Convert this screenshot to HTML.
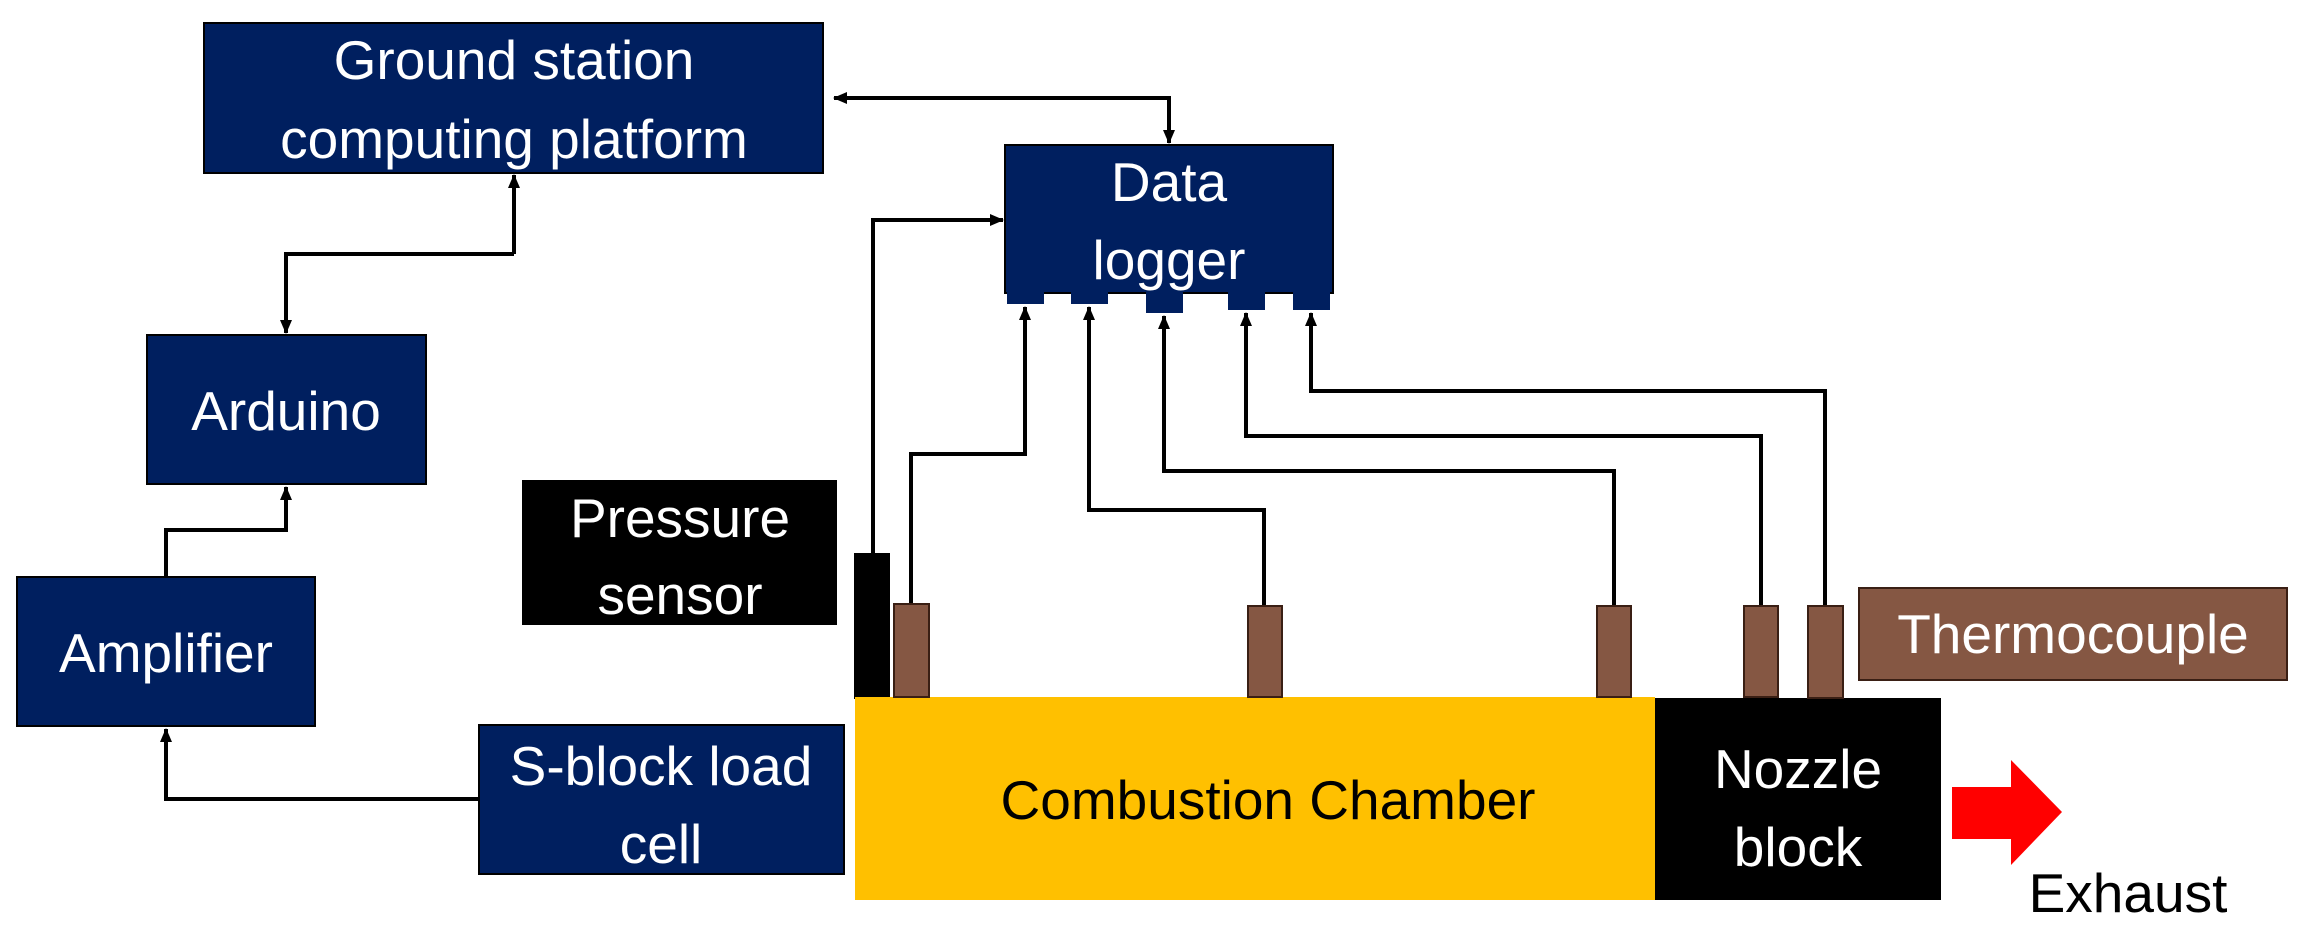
<!DOCTYPE html>
<html><head><meta charset="utf-8"><style>
html,body{margin:0;padding:0;background:#fff;}
svg{display:block;}
text{font-family:"Liberation Sans",sans-serif;}
</style></head><body>
<svg width="2307" height="940" viewBox="0 0 2307 940" xmlns="http://www.w3.org/2000/svg">
<defs>
<marker id="a" markerWidth="14" markerHeight="14" refX="13" refY="6" orient="auto" markerUnits="userSpaceOnUse" viewBox="0 0 14 12">
<path d="M0,0 L14,6 L0,12 z" fill="#000"/></marker>
</defs>
<g fill="none" stroke="#000" stroke-width="4">
<path d="M1169,98 L834,98" marker-end="url(#a)"/>
<path d="M835,98 L1169,98 L1169,143" marker-end="url(#a)"/>
<path d="M514,254 L514,175" marker-end="url(#a)"/>
<path d="M514,254 L286,254 L286,333" marker-end="url(#a)"/>
<path d="M166,577 L166,530 L286,530 L286,487" marker-end="url(#a)"/>
<path d="M479,799 L166,799 L166,729" marker-end="url(#a)"/>
<path d="M873,553 L873,220 L1003,220" marker-end="url(#a)"/>
<path d="M911,604 L911,454 L1025,454 L1025,307" marker-end="url(#a)"/>
<path d="M1264,606 L1264,510 L1089,510 L1089,307" marker-end="url(#a)"/>
<path d="M1614,606 L1614,471 L1164,471 L1164,316" marker-end="url(#a)"/>
<path d="M1761,606 L1761,436 L1246,436 L1246,313" marker-end="url(#a)"/>
<path d="M1825,606 L1825,391 L1311,391 L1311,313" marker-end="url(#a)"/>
</g>
<g fill="#001f5f" stroke="#000" stroke-width="2">
<rect x="204" y="23" width="619" height="150"/>
<rect x="1005" y="145" width="328" height="148"/>
<rect x="147" y="335" width="279" height="149"/>
<rect x="17" y="577" width="298" height="149"/>
<rect x="479" y="725" width="365" height="149"/>
</g>
<g fill="#001f5f">
<rect x="1007" y="290" width="37" height="14"/>
<rect x="1071" y="290" width="37" height="14"/>
<rect x="1146" y="290" width="37" height="23"/>
<rect x="1228" y="290" width="37" height="20"/>
<rect x="1293" y="290" width="37" height="20"/>
</g>
<rect x="522" y="480" width="315" height="145" fill="#000"/>
<rect x="854" y="553" width="36" height="146" fill="#000"/>
<rect x="855" y="697" width="800" height="203" fill="#ffc000"/>
<rect x="1655" y="698" width="286" height="202" fill="#000"/>
<g fill="#855743" stroke="#3a1f14" stroke-width="2">
<rect x="894" y="604" width="35" height="93"/>
<rect x="1248" y="606" width="34" height="91"/>
<rect x="1597" y="606" width="34" height="91"/>
<rect x="1744" y="606" width="34" height="91"/>
<rect x="1808" y="606" width="35" height="92"/>
<rect x="1859" y="588" width="428" height="92"/>
</g>
<path d="M1952,787 L2011,787 L2011,760 L2062,812 L2011,865 L2011,839 L1952,839 z" fill="#ff0000"/>
<g font-size="55" fill="#fff" text-anchor="middle">
<text x="514" y="79">Ground station</text>
<text x="514" y="158">computing platform</text>
<text x="1169" y="201">Data</text>
<text x="1169" y="279">logger</text>
<text x="286" y="430">Arduino</text>
<text x="166" y="672">Amplifier</text>
<text x="661" y="785">S-block load</text>
<text x="661" y="863">cell</text>
<text x="680" y="537">Pressure</text>
<text x="680" y="614">sensor</text>
<text x="1798" y="788">Nozzle</text>
<text x="1798" y="866">block</text>
<text x="2073" y="653">Thermocouple</text>
</g>
<g font-size="55" fill="#000" text-anchor="middle">
<text x="1268" y="819">Combustion Chamber</text>
<text x="2128" y="912">Exhaust</text>
</g>
</svg>
</body></html>
